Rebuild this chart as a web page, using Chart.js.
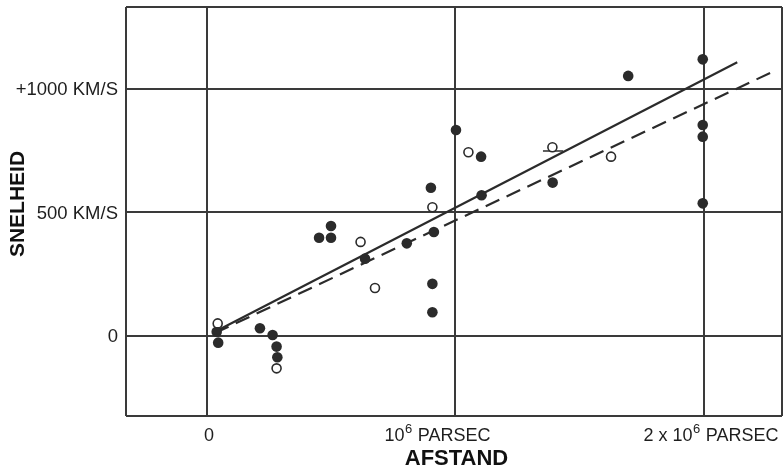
<!DOCTYPE html>
<html>
<head>
<meta charset="utf-8">
<script src="https://cdn.jsdelivr.net/npm/chart.js@4/dist/chart.umd.min.js"></script>
<style>
  html, body { margin: 0; padding: 0; background: #fff; }
  #c { display: block; }
</style>
</head>
<body>
<canvas id="c" width="783" height="471"></canvas>
<script>
// ---- DATA (distance in 10^6 parsec, velocity in km/s) ----
const filledDist = [0.039, 0.045, 0.213, 0.264, 0.280, 0.283, 0.451, 0.499, 0.499, 0.636, 0.804, 0.913,
                    0.907, 0.907, 0.901, 1.002, 1.103, 1.105, 1.391, 1.695, 1.995, 1.995, 1.995, 1.995];
const filledVel  = [17, -27, 31, 4, -43, -86, 398, 445, 398, 313, 375, 421,
                    211, 96, 600, 834, 726, 570, 621, 1053, 1120, 854, 807, 537];
const openDist = [0.043, 0.280, 0.618, 0.676, 0.907, 1.052, 1.390, 1.626];
const openVel  = [51, -131, 381, 194, 521, 744, 764, 726];
const solidFitDist = [0.024, 2.134];
const solidFitVel  = [13, 1108];
const dashedFitDist = [0.032, 2.273];
const dashedFitVel  = [12, 1068];
const markDist = [1.352, 1.433];
const markVel  = [749, 749];

const xTickValues = [0, 1, 2];
const xTickLabels = ['0', '10\u2076 PARSEC', '2 x 10\u2076 PARSEC'];
const yTickValues = [0, 500, 1000];
const yTickLabels = ['0', '500 KM/S', '+1000 KM/S'];
const xTitle = 'AFSTAND';
const yTitle = 'SNELHEID';

const X_MIN = -0.326, X_MAX = 2.314;
const Y_MIN = -324, Y_MAX = 1332;

// ---- STYLE ----
const INK = '#2b2b2b';
const GRID = '#3a3a3a';
const xLabelShift = [2, -18, 7];
const BASE_FONT = '18px "Liberation Sans", Arial, sans-serif';
const SUP_FONT = '13px "Liberation Sans", Arial, sans-serif';

const toPts = (xs, ys) => xs.map((x, i) => ({ x: x, y: ys[i] }));

// split a label at the superscript six into [text, isSup] parts
function parts(label) {
  const out = [];
  label.split(/(\u2076)/).forEach(p => {
    if (p === '') return;
    if (p === '\u2076') out.push(['6', true]); else out.push([p, false]);
  });
  return out;
}

function drawRich(ctx, label, cx, cy) {
  const ps = parts(label);
  let w = 0;
  ps.forEach(([t, sup]) => { ctx.font = sup ? SUP_FONT : BASE_FONT; w += ctx.measureText(t).width + (sup ? 1 : 0); });
  let x = cx - w / 2;
  ctx.textAlign = 'left';
  ps.forEach(([t, sup]) => {
    ctx.font = sup ? SUP_FONT : BASE_FONT;
    ctx.textBaseline = 'alphabetic';
    ctx.fillText(t, x + (sup ? 0.5 : 0), sup ? cy - 1 : cy + 6.5);
    x += ctx.measureText(t).width + (sup ? 1 : 0);
  });
}

const labelPlugin = {
  id: 'labels',
  afterDraw(chart) {
    const ctx = chart.ctx;
    const xs = chart.scales.x, ys = chart.scales.y;
    ctx.save();
    ctx.fillStyle = '#1e1e1e';
    ctx.font = '18.5px "Liberation Sans", Arial, sans-serif';
    ctx.textAlign = 'right';
    ctx.textBaseline = 'middle';
    yTickValues.forEach((v, i) => {
      ctx.fillText(yTickLabels[i], 118, ys.getPixelForValue(v) + 1);
    });
    xTickValues.forEach((v, i) => {
      drawRich(ctx, xTickLabels[i], xs.getPixelForValue(v) + xLabelShift[i], 434);
    });
    ctx.fillStyle = '#111';
    ctx.textAlign = 'center';
    ctx.textBaseline = 'middle';
    ctx.font = 'bold 22px "Liberation Sans", Arial, sans-serif';
    ctx.fillText(xTitle, xs.getPixelForValue(1) + 1, 459);
    ctx.translate(18, 204);
    ctx.rotate(-Math.PI / 2);
    ctx.font = 'bold 21px "Liberation Sans", Arial, sans-serif';
    ctx.fillText(yTitle, 0, 0);
    ctx.restore();
  }
};

new Chart(document.getElementById('c'), {
  type: 'scatter',
  data: {
    datasets: [
      { label: 'open', data: toPts(openDist, openVel), pointRadius: 4.5, pointBackgroundColor: '#fff',
        pointBorderColor: INK, pointBorderWidth: 1.6, showLine: false },
      { label: 'filled', data: toPts(filledDist, filledVel), pointRadius: 5.3, pointBackgroundColor: INK,
        pointBorderColor: INK, pointBorderWidth: 0, showLine: false },
      { label: 'mark', data: toPts(markDist, markVel), showLine: true, pointRadius: 0,
        borderColor: INK, borderWidth: 1.5 },
      { label: 'solid', data: toPts(solidFitDist, solidFitVel), showLine: true, pointRadius: 0,
        borderColor: INK, borderWidth: 2.2 },
      { label: 'dashed', data: toPts(dashedFitDist, dashedFitVel), showLine: true, pointRadius: 0,
        borderColor: INK, borderWidth: 2.2, borderDash: [15, 8] }
    ]
  },
  options: {
    responsive: false,
    animation: false,
    devicePixelRatio: 1,
    layout: { autoPadding: false, padding: { left: 126, right: 1, top: 7, bottom: 55 } },
    plugins: { legend: { display: false }, tooltip: { enabled: false } },
    scales: {
      x: {
        type: 'linear', min: X_MIN, max: X_MAX,
        afterBuildTicks: s => { s.ticks = [X_MIN, ...xTickValues, X_MAX].map(v => ({ value: v })); },
        ticks: { display: false },
        grid: { color: GRID, lineWidth: 2, drawTicks: false },
        border: { display: false }
      },
      y: {
        type: 'linear', min: Y_MIN, max: Y_MAX,
        afterBuildTicks: s => { s.ticks = [Y_MIN, ...yTickValues, Y_MAX].map(v => ({ value: v })); },
        ticks: { display: false },
        grid: { color: GRID, lineWidth: 2, drawTicks: false },
        border: { display: false }
      }
    }
  },
  plugins: [labelPlugin]
});
</script>
</body>
</html>
